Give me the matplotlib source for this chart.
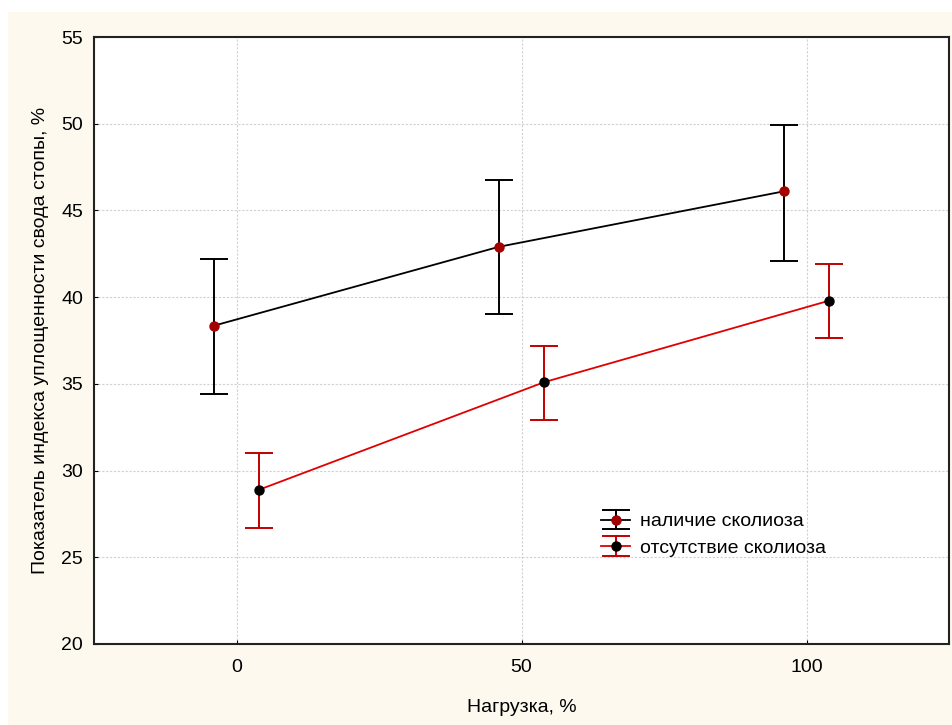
import matplotlib
matplotlib.use("Agg")
import matplotlib.pyplot as plt
from matplotlib.patches import Rectangle

plt.rcParams['font.family'] = ['Liberation Sans', 'DejaVu Sans']

# load levels, shifted a bit so the two groups do not overlap
x_scol = [-4, 46, 96]
x_noscol = [4, 54, 104]

# наличие сколиоза
y_scol = [38.35, 42.9, 46.1]
lo_scol = [34.4, 39.0, 42.1]
hi_scol = [42.2, 46.75, 49.9]

# отсутствие сколиоза
y_noscol = [28.9, 35.1, 39.8]
lo_noscol = [26.7, 32.9, 37.65]
hi_noscol = [31.0, 37.2, 41.9]

xticks = [0, 50, 100]
yticks = [20, 25, 30, 35, 40, 45, 50, 55]

cream = '#FEF9EF'
red_line = '#E00000'
red_bar = '#C00000'
red_dot = '#A50000'

fig = plt.figure(figsize=(9.52, 7.25), dpi=100)
fig.patch.set_facecolor('white')
fig.patches.append(Rectangle((8 / 952, 0), 1, 1 - 12 / 725, transform=fig.transFigure,
                             facecolor=cream, edgecolor='none', zorder=-10))

ax = fig.add_axes([94 / 952, 1 - 644 / 725, (949 - 94) / 952, (644 - 37) / 725])
ax.set_facecolor('white')

err_s = [[y - l for y, l in zip(y_scol, lo_scol)], [h - y for y, h in zip(y_scol, hi_scol)]]
err_n = [[y - l for y, l in zip(y_noscol, lo_noscol)], [h - y for y, h in zip(y_noscol, hi_noscol)]]

ax.errorbar(x_scol, y_scol, yerr=err_s, color='black', lw=1.3, elinewidth=1.4,
            capsize=10, capthick=1.4, marker='o', ms=6.5, mfc=red_dot, mec=red_dot,
            label='наличие сколиоза', zorder=3)
ax.errorbar(x_noscol, y_noscol, yerr=err_n, color=red_line, lw=1.3, elinewidth=1.4,
            ecolor=red_bar, capsize=10, capthick=1.4, marker='o', ms=6.5,
            mfc='black', mec='black', label='отсутствие сколиоза', zorder=3)

ax.set_xlim(-25, 125)
ax.set_ylim(20, 55)
ax.set_xticks(xticks)
ax.set_yticks(yticks)
ax.grid(True, color='#D0D0D0', linestyle=(0, (2, 1.5)), linewidth=0.8)
ax.set_axisbelow(True)
ax.tick_params(direction='in', length=3, labelsize=14, colors='black', pad=8)
ax.tick_params(axis='x', pad=11)
for s in ax.spines.values():
    s.set_linewidth(1.5)
    s.set_color('#222222')

ax.set_xlabel('Нагрузка, %', fontsize=14, labelpad=16)
ax.set_ylabel('Показатель индекса уплощенности свода стопы, %', fontsize=14, labelpad=9)

ax.legend(loc='upper left', bbox_to_anchor=(0.584, 0.229), frameon=False, fontsize=14,
          handlelength=1.5, handletextpad=0.5, labelspacing=0.45, borderaxespad=0)

fig.savefig('out.png', dpi=100, facecolor=fig.get_facecolor())
